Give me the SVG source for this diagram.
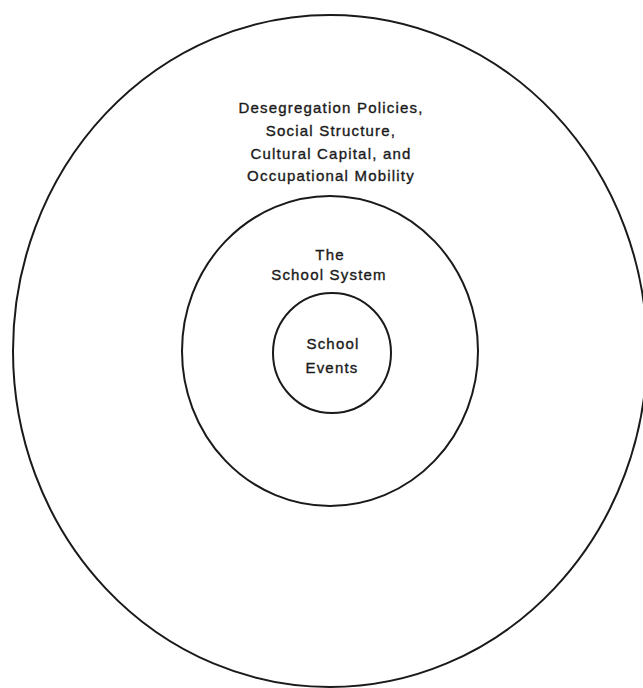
<svg xmlns="http://www.w3.org/2000/svg" width="643" height="688" viewBox="0 0 643 688">
<style>
.ring{fill:none;stroke:#1a1a1a;stroke-width:2}
.lbl{font-family:"Liberation Sans",Arial,sans-serif;font-size:15px;fill:#1a1a1a;stroke:#1a1a1a;stroke-width:0.35;text-anchor:middle;letter-spacing:1.2px}
</style>
<rect width="643" height="688" fill="#fff"/>
<g id="outer">
<ellipse class="ring" cx="330" cy="351" rx="317" ry="336"/>
<text class="lbl" x="331" y="113">Desegregation Policies,</text>
<text class="lbl" x="331" y="136">Social Structure,</text>
<text class="lbl" x="331" y="159">Cultural Capital, and</text>
<text class="lbl" x="331" y="181">Occupational Mobility</text>
</g>
<g id="middle">
<ellipse class="ring" cx="330" cy="351" rx="148" ry="155"/>
<text class="lbl" x="330" y="260">The</text>
<text class="lbl" x="329" y="280">School System</text>
</g>
<g id="inner">
<ellipse class="ring" cx="332" cy="353" rx="59" ry="60"/>
<text class="lbl" x="333" y="349">School</text>
<text class="lbl" x="332" y="373">Events</text>
</g>
<g id="connectors"></g>
</svg>
